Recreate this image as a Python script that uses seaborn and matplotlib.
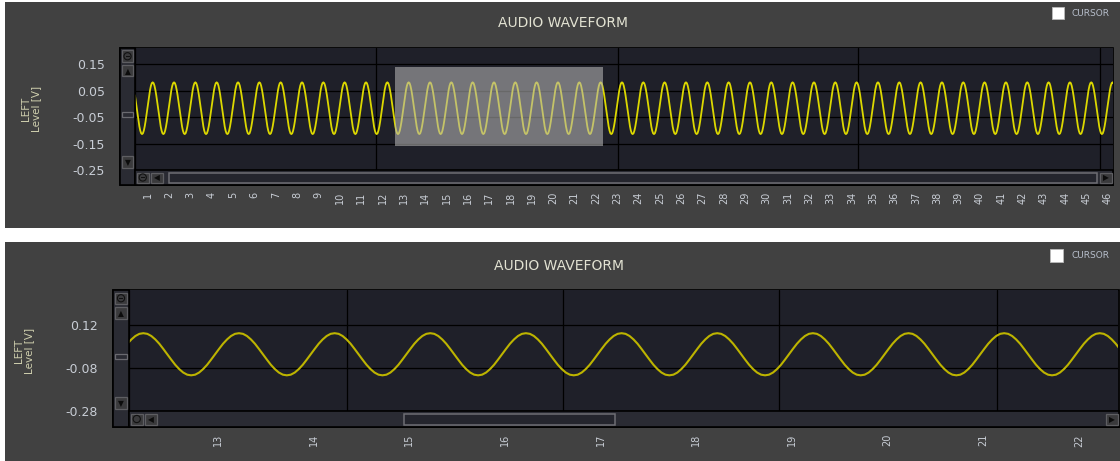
import matplotlib

matplotlib.use("Agg")

import matplotlib.pyplot as plt
from matplotlib.patches import Circle, Rectangle
from matplotlib.transforms import Affine2D
import numpy as np
import pandas as pd
import seaborn as sns


W, H = 1120, 461
PT = 0.72  # points per pixel at dpi 100

# one cycle of the tone: level [V] at 24 even phase steps, starting on a crest
CYCLE_LEVELS = [0.082, 0.079, 0.069, 0.053, 0.033, 0.009, -0.016, -0.041,
                -0.065, -0.085, -0.101, -0.111, -0.114, -0.111, -0.101, -0.085,
                -0.065, -0.041, -0.016, 0.009, 0.033, 0.053, 0.069, 0.079]
FIRST_CREST = 0.22
N_CYCLES = 48

TOP_TICKS = list(range(1, 47))
TOP_XLIM = (0.39, 46.24)
TOP_YLIM = (-0.25, 0.212)
TOP_YTICKS = [0.15, 0.05, -0.05, -0.15, -0.25]
TOP_GRID_X = [11.69, 23.03, 34.28, 45.63]
SELECTION_X = (12.58, 22.33)
SELECTION_Y = (-0.159, 0.139)

ZOOM_TICKS = list(range(13, 23))
ZOOM_XLIM = (12.07, 22.41)
ZOOM_YLIM = (-0.28, 0.283)
ZOOM_YTICKS = [0.12, -0.08, -0.28]
ZOOM_GRID_X = [14.35, 16.61, 18.87, 21.14]

PANEL_BG = "#414141"
PLOT_BG = "#1f2029"
SCROLL_BG = "#2a2b33"
TEXT_C = "#c8cdd5"
TITLE_C = "#e2e2d2"
LABEL_C = "#cfcfae"

# pixel layout of the two widgets
TOP_LAYOUT = dict(panel=(5, 2, 1120, 228), frame=(120, 48, 1113, 185),
                  data=(135, 48, 1113, 170), title=(563, 23),
                  cursor=(1052, 7, 1064, 19), ylabel_x=31,
                  hthumb=(169, 1097), vthumb=(112, 117),
                  ytick_pad=3, xtick_len=20, xlabel_pad=22, wave_c="#dcd800", wave_lw=1.3)
ZOOM_LAYOUT = dict(panel=(5, 242, 1120, 461), frame=(113, 290, 1119, 427),
                   data=(129, 290, 1118, 411), title=(559, 266),
                   cursor=(1050, 249, 1063, 262), ylabel_x=24,
                   hthumb=(404, 615), vthumb=(354, 359),
                   ytick_pad=4, xtick_len=21, xlabel_pad=23, wave_c="#bdb400", wave_lw=1.5)


def px_transform(fig):
    return Affine2D().scale(1 / W, -1 / H).translate(0, 1) + fig.transFigure


def px_rect(fig, x0, y0, x1, y1, **kw):
    r = Rectangle((x0, y0), x1 - x0, y1 - y0, transform=px_transform(fig), **kw)
    fig.add_artist(r)
    return r


def px_text(fig, x, y, s, **kw):
    fig.text(x / W, 1 - y / H, s, **kw)


def button(fig, x0, y0, x1, y1, symbol):
    px_rect(fig, x0, y0, x1, y1, facecolor="#3a3a3c", edgecolor="#5e5e62", lw=0.9, zorder=3)
    cx, cy = (x0 + x1) / 2, (y0 + y1) / 2
    if symbol == "zoom":
        fig.add_artist(Circle((cx, cy), 3.6, transform=px_transform(fig), facecolor="none",
                              edgecolor="#111111", lw=0.8, zorder=4))
        fig.add_artist(Rectangle((cx - 2, cy - 0.4), 4, 0.8, transform=px_transform(fig),
                                 facecolor="#111111", edgecolor="none", zorder=4))
    else:
        px_text(fig, cx, cy + 0.5, symbol, ha="center", va="center",
                fontsize=5.5, color="#0c0c0c", zorder=4)


def draw_widget(fig, wave, lay, xlim, ylim, yticks, grid_x, ticks, ylab_fmt, selection=False):
    px_rect(fig, *lay["panel"], facecolor=PANEL_BG, edgecolor="none", zorder=-2)
    fx0, fy0, fx1, fy1 = lay["frame"]
    dx0, dy0, dx1, dy1 = lay["data"]
    px_rect(fig, fx0, fy0, fx1, fy1, facecolor=SCROLL_BG, edgecolor="black", lw=1.2, zorder=-1)

    ax = fig.add_axes([dx0 / W, 1 - dy1 / H, (dx1 - dx0) / W, (dy1 - dy0) / H])
    ax.set_facecolor(PLOT_BG)
    sns.lineplot(data=wave, x="t", y="level", ax=ax, color=lay["wave_c"],
                 lw=lay["wave_lw"], estimator=None, sort=False)
    if selection:
        ax.add_patch(Rectangle((SELECTION_X[0], SELECTION_Y[0]),
                               SELECTION_X[1] - SELECTION_X[0],
                               SELECTION_Y[1] - SELECTION_Y[0],
                               facecolor="#b4b4b4", alpha=0.58, edgecolor="none", zorder=5))
    ax.set_xlim(*xlim)
    ax.set_ylim(*ylim)
    for sp in ax.spines.values():
        sp.set_visible(False)

    ax.set_yticks(yticks)
    ax.set_yticklabels([ylab_fmt.format(v) for v in yticks])
    ax.tick_params(axis="y", length=27 * PT, width=1.0, color="black",
                   pad=lay["ytick_pad"] * PT, labelsize=9, labelcolor=TEXT_C)
    ax.set_xticks([xlim[0]] + grid_x)
    ax.set_xticklabels([])
    ax.tick_params(axis="x", which="major", length=lay["xtick_len"] * PT, width=1.0, color="black")
    ax.set_xticks(ticks, minor=True)
    ax.set_xticklabels([str(v) for v in ticks], minor=True, rotation=90)
    ax.tick_params(axis="x", which="minor", length=0, pad=lay["xlabel_pad"] * PT,
                   labelsize=7, labelcolor=TEXT_C)
    ax.grid(True, which="major", color="black", lw=0.9)
    ax.grid(False, which="minor")
    ax.set_xlabel("")
    ax.set_ylabel("LEFT\nLevel [V]", fontsize=7.5, color=LABEL_C, linespacing=1.1)
    ax.yaxis.label.set_va("center")
    ax.yaxis.set_label_coords((lay["ylabel_x"] - dx0) / (dx1 - dx0), 0.5)

    # scroll bars
    px_rect(fig, fx0, fy0, dx0, fy1, facecolor=SCROLL_BG, edgecolor="black", lw=1.2, zorder=2)
    px_rect(fig, dx0, dy1, fx1, fy1, facecolor=SCROLL_BG, edgecolor="black", lw=1.2, zorder=2)
    bx0, bx1 = fx0 + 2, dx0 - 2
    button(fig, bx0, fy0 + 2.5, bx1, fy0 + 14, "zoom")
    button(fig, bx0, fy0 + 17, bx1, fy0 + 28.5, "\u25b2")
    button(fig, bx0, dy1 - 14, bx1, dy1 - 2.5, "\u25bc")
    vy0, vy1 = lay["vthumb"]
    px_rect(fig, bx0, vy0, bx1, vy1, facecolor=SCROLL_BG, edgecolor="#6a6a70", lw=0.9, zorder=3)
    hy0, hy1 = dy1 + 2.5, fy1 - 2.5
    button(fig, dx0 + 2, hy0, dx0 + 13.5, hy1, "zoom")
    button(fig, dx0 + 16, hy0, dx0 + 27.5, hy1, "\u25c0")
    button(fig, fx1 - 13, hy0, fx1 - 1.5, hy1, "\u25b6")
    tx0, tx1 = lay["hthumb"]
    px_rect(fig, tx0, hy0, tx1, hy1, facecolor="#24252d", edgecolor="#6e6e74", lw=1.1, zorder=3)

    # header
    tx, ty = lay["title"]
    px_text(fig, tx, ty, "AUDIO WAVEFORM", ha="center", va="center", fontsize=10, color=TITLE_C)
    cx0, cy0, cx1, cy1 = lay["cursor"]
    px_rect(fig, cx0, cy0, cx1, cy1, facecolor="white", edgecolor="#bbbbbb", lw=0.6, zorder=3)
    px_text(fig, cx1 + 8, (cy0 + cy1) / 2, "CURSOR", ha="left", va="center",
            fontsize=6.5, color="#b8bfcc")
    return ax


def main():
    sns.set_theme(style="dark")
    plt.rcParams["font.family"] = ["DejaVu Sans"]

    levels = np.tile(CYCLE_LEVELS, N_CYCLES)
    t = FIRST_CREST - 1 + np.arange(len(levels)) / len(CYCLE_LEVELS)
    wave = pd.DataFrame({"t": t, "level": levels})

    fig = plt.figure(figsize=(W / 100, H / 100), dpi=100, facecolor="white")
    draw_widget(fig, wave, TOP_LAYOUT, TOP_XLIM, TOP_YLIM, TOP_YTICKS, TOP_GRID_X,
                TOP_TICKS, "{:.2f}", selection=True)
    draw_widget(fig, wave, ZOOM_LAYOUT, ZOOM_XLIM, ZOOM_YLIM, ZOOM_YTICKS, ZOOM_GRID_X,
                ZOOM_TICKS, "{:.2f}")
    fig.savefig("out.png", dpi=100, facecolor="white")


if __name__ == "__main__":
    main()
